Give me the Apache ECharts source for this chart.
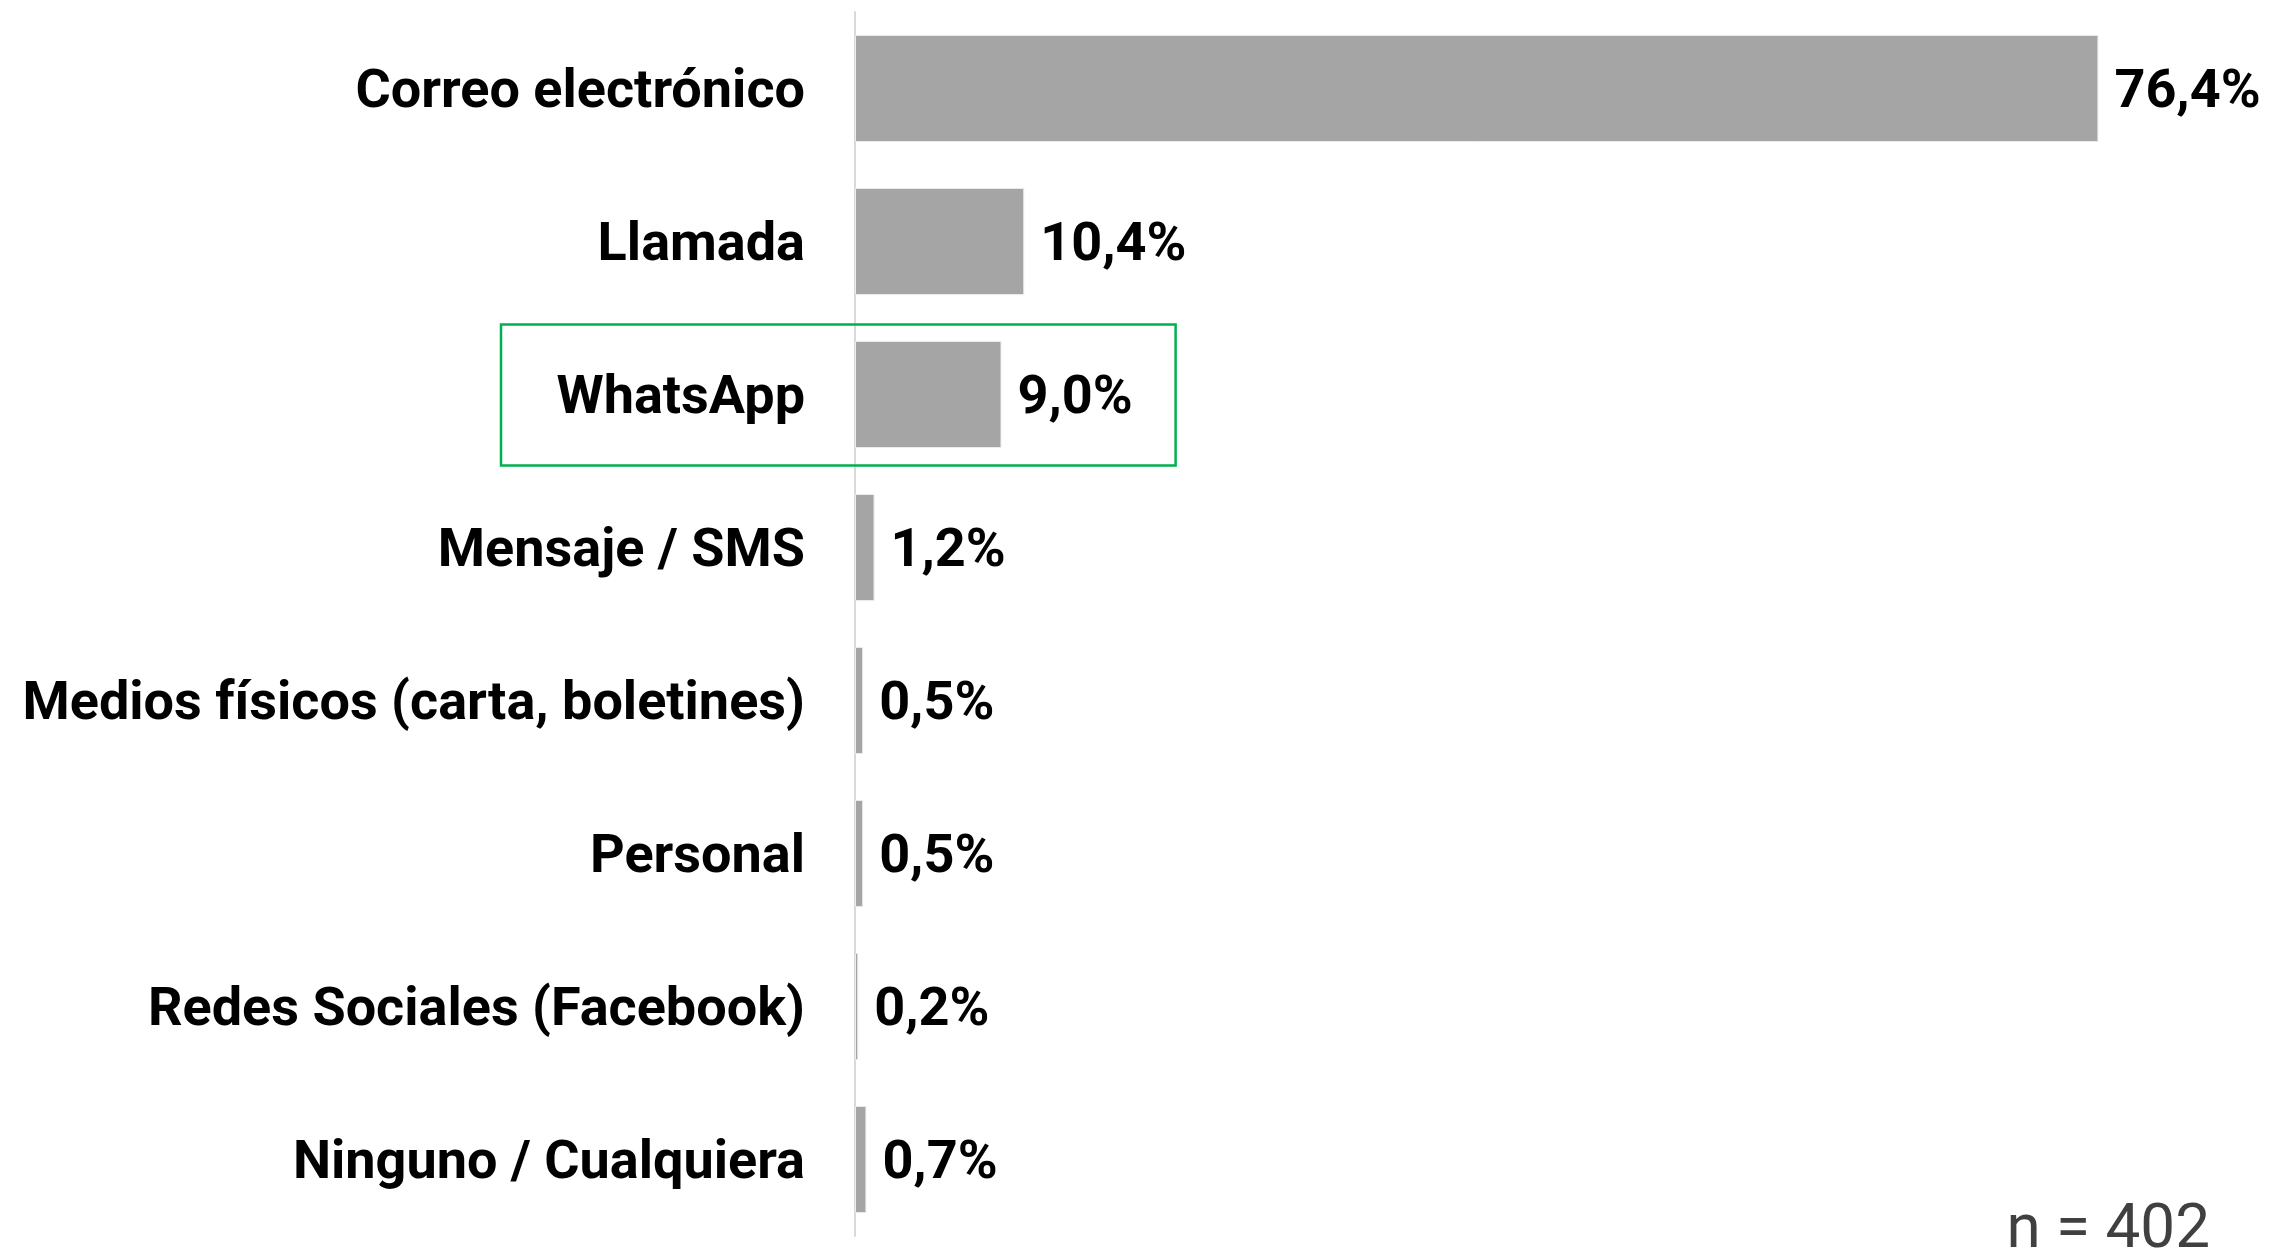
<!DOCTYPE html>
<html>
<head>
<meta charset="utf-8">
<style>
  html, body { margin: 0; padding: 0; background: #fff; }
  #chart { width: 2271px; height: 1251px; }
</style>
<script src="https://cdn.jsdelivr.net/npm/echarts@6/dist/echarts.min.js"></script>
</head>
<body>
<div id="chart"></div>
<script>
// data
var categories = [
  'Correo electrónico',
  'Llamada',
  'WhatsApp',
  'Mensaje / SMS',
  'Medios físicos (carta, boletines)',
  'Personal',
  'Redes Sociales (Facebook)',
  'Ninguno / Cualquiera'
];
var values = [76.4, 10.4, 9.0, 1.2, 0.5, 0.5, 0.2, 0.7];
var highlighted = 'WhatsApp';
var sampleNote = 'n = 402';

var ink = '#000000';
var barGray = '#a5a5a5';
var green = '#00b050';

var chart = echarts.init(document.getElementById('chart'));
chart.setOption({
  animation: false,
  grid: { left: 855, right: 114, top: 12, bottom: 15 },
  xAxis: {
    type: 'value',
    min: 0,
    max: 80,
    show: false
  },
  yAxis: {
    type: 'category',
    data: categories,
    inverse: true,
    axisTick: { show: false },
    axisLine: { show: true, lineStyle: { color: '#d9d9d9', width: 2 } },
    axisLabel: {
      margin: 50,
      formatter: function(v) { return '{c|' + v + '}'; },
      rich: {
        c: {
          color: ink,
          fontFamily: 'Roboto',
          fontWeight: 'bold',
          fontSize: 54,
          padding: [10, 0, 0, 0]
        }
      }
    }
  },
  series: [{
    type: 'bar',
    data: values,
    barWidth: '70%',
    itemStyle: { color: barGray, borderColor: '#ececec', borderWidth: 1 },
    label: {
      show: true,
      position: 'right',
      distance: 16,
      offset: [0, 5],
      color: ink,
      fontFamily: 'Roboto',
      fontWeight: 'bold',
      fontSize: 54,
      formatter: function(p) {
        return p.value.toFixed(1).replace('.', ',') + '%';
      }
    }
  }]
});

// highlight box around the WhatsApp row, placed from the axis scale
var cy = chart.convertToPixel({ yAxisIndex: 0 }, highlighted);
var xr = chart.convertToPixel({ xAxisIndex: 0 }, 19.7);
chart.setOption({
  graphic: [
    {
      type: 'rect',
      shape: { x: 501, y: cy - 70, width: xr - 501, height: 141 },
      style: { fill: 'none', stroke: green, lineWidth: 2.5 },
      z: 10
    },
    {
      type: 'text',
      right: 61,
      top: 1200,
      style: {
        text: sampleNote,
        fill: '#404040',
        font: '62px Roboto'
      }
    }
  ]
});
</script>
</body>
</html>
